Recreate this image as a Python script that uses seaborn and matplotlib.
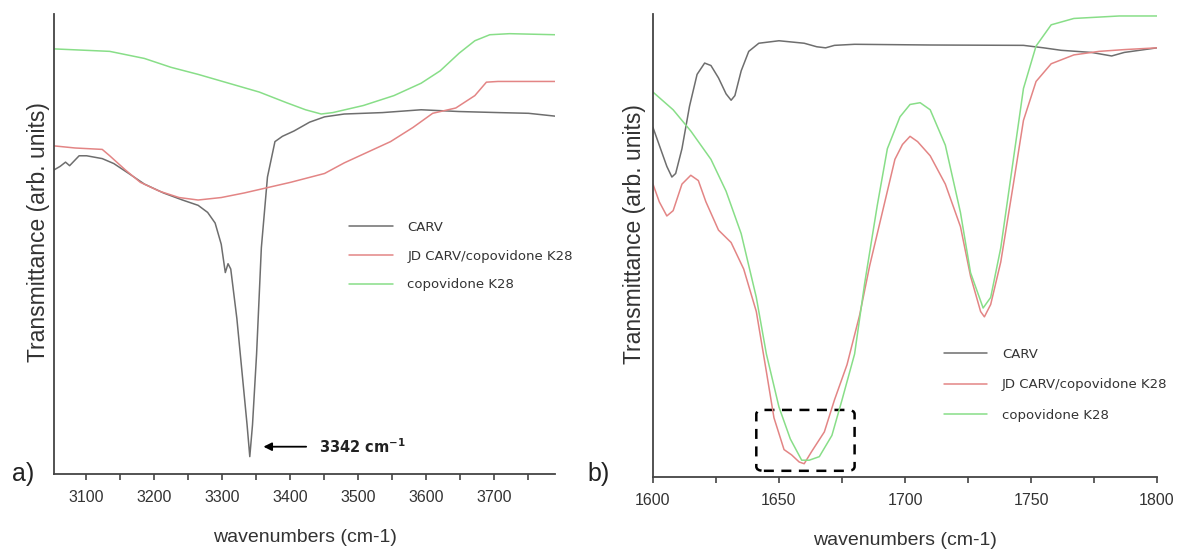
import numpy as np
import pandas as pd
import seaborn as sns
import matplotlib.pyplot as plt
from matplotlib.ticker import MultipleLocator
from matplotlib.patches import FancyBboxPatch

# ---------------- Data: panel a (3050-3790 cm-1) ----------------
a_carv_x = [3053, 3062, 3070, 3076, 3090, 3101, 3124, 3141, 3163, 3186, 3214, 3242, 3265, 3279, 3290,
            3299, 3305, 3309, 3313, 3322, 3330, 3337, 3341, 3345, 3351, 3358, 3367, 3378, 3389, 3406,
            3429, 3451, 3480, 3536, 3593, 3649, 3707, 3751, 3790]
a_carv_y = [860, 870, 882, 872, 900, 900, 892, 878, 850, 820, 795, 775, 760, 740, 710,
            650, 570, 595, 580, 440, 280, 140, 50, 140, 340, 640, 840, 940, 955, 970,
            995, 1010, 1018, 1022, 1030, 1025, 1022, 1020, 1012]

a_jd_x = [3053, 3084, 3124, 3135, 3158, 3180, 3208, 3237, 3265, 3299, 3333, 3367, 3401, 3451,
          3480, 3514, 3548, 3581, 3610, 3644, 3672, 3689, 3706, 3790]
a_jd_y = [928, 922, 918, 900, 860, 825, 800, 782, 775, 782, 795, 810, 825, 850,
          880, 910, 940, 980, 1020, 1035, 1070, 1108, 1110, 1110]

a_cop_x = [3053, 3135, 3186, 3225, 3265, 3310, 3355, 3395, 3423, 3446, 3463, 3508, 3553, 3593,
           3621, 3649, 3672, 3694, 3723, 3790]
a_cop_y = [1202, 1195, 1175, 1150, 1130, 1105, 1080, 1050, 1030, 1018, 1022, 1042, 1070, 1105,
           1140, 1190, 1225, 1242, 1245, 1242]

# ---------------- Data: panel b (1600-1800 cm-1) ----------------
b_carv_x = [1600, 1603, 1605.5, 1607.5, 1609, 1611.5, 1614.5, 1617.5, 1620.5, 1623, 1626, 1629, 1631,
            1632.5, 1635, 1638, 1642, 1650, 1660, 1665, 1668.5, 1672, 1680, 1710, 1747, 1755, 1762,
            1774, 1782, 1787, 1800]
b_carv_y = [988, 928, 878, 848, 858, 928, 1048, 1138, 1170, 1163, 1128, 1083, 1065,
            1078, 1148, 1203, 1226, 1233, 1226, 1216, 1213, 1220, 1223, 1221, 1220, 1213, 1206,
            1200, 1190, 1200, 1213]

b_jd_x = [1600, 1602.5, 1605.5, 1608, 1611.5, 1615, 1618, 1621, 1626, 1631, 1636, 1641, 1645, 1648,
          1652, 1655, 1658, 1660, 1663, 1668, 1672, 1677, 1682, 1686, 1692, 1696, 1699, 1702, 1705,
          1710, 1716, 1722, 1726, 1730, 1731.5, 1734, 1738, 1743, 1747, 1752, 1758, 1767, 1777,
          1787, 1800]
b_jd_y = [828, 778, 738, 753, 828, 853, 838, 778, 698, 663, 588, 468, 298, 168,
          78, 63, 43, 38, 73, 128, 218, 318, 458, 598, 778, 898, 940, 963, 948,
          908, 828, 708, 568, 468, 453, 488, 608, 828, 1008, 1118, 1168, 1193, 1203,
          1208, 1213]

b_cop_x = [1600, 1608, 1615, 1623, 1629, 1635, 1641, 1645, 1650, 1654.5, 1659, 1662, 1666, 1671,
           1675, 1680, 1684, 1689, 1693, 1698, 1702, 1706, 1710, 1716, 1722, 1726, 1731, 1734,
           1738, 1743, 1747, 1752, 1758, 1767, 1785, 1800]
b_cop_y = [1088, 1038, 978, 898, 808, 688, 508, 348, 198, 108, 48, 48, 58, 118,
           218, 348, 548, 768, 928, 1018, 1053, 1058, 1038, 938, 748, 578, 478, 508,
           648, 898, 1098, 1218, 1278, 1296, 1303, 1303]

series_names = ["CARV", "JD CARV/copovidone K28", "copovidone K28"]
colors = ["#6e6e6e", "#e38585", "#88de88"]

a_xticks = [3100, 3200, 3300, 3400, 3500, 3600, 3700]
b_xticks = [1600, 1650, 1700, 1750, 1800]

sns.set_theme(style="white")
plt.rcParams["font.family"] = ["Liberation Sans", "DejaVu Sans"]

fig = plt.figure(figsize=(11.81, 5.55), dpi=100)
axA = fig.add_axes([0.0457, 0.1454, 0.4243, 0.8290])
axB = fig.add_axes([0.5529, 0.1402, 0.4268, 0.8342])

def draw(ax, xs, ys):
    for x, y, name, c in zip(xs, ys, series_names, colors):
        df = pd.DataFrame({"x": x, "y": y})
        sns.lineplot(data=df, x="x", y="y", ax=ax, color=c, lw=1.1,
                     label=name, estimator=None, sort=False)

draw(axA, [a_carv_x, a_jd_x, a_cop_x], [a_carv_y, a_jd_y, a_cop_y])
draw(axB, [b_carv_x, b_jd_x, b_cop_x], [b_carv_y, b_jd_y, b_cop_y])

for ax in (axA, axB):
    for s in ("top", "right"):
        ax.spines[s].set_visible(False)
    for s in ("left", "bottom"):
        ax.spines[s].set_color("#444444")
        ax.spines[s].set_linewidth(1.3)
    ax.set_yticks([])
    ax.set_ylabel("Transmittance (arb. units)", fontsize=16.5, color="#333333")
    ax.set_xlabel("wavenumbers (cm-1)", fontsize=14, color="#333333", labelpad=17)
    ax.tick_params(axis="x", which="both", direction="out", length=4.5, width=1.2,
                   color="#444444", labelsize=11.5, labelcolor="#333333", bottom=True, pad=7)

legA = axA.legend(frameon=False, handlelength=3.3, handletextpad=1.1,
                  labelspacing=1.2, borderpad=0, borderaxespad=0, loc="upper left",
                  bbox_to_anchor=(0.589, 0.551), prop={"family": "DejaVu Sans", "size": 9.5})
legB = axB.legend(frameon=False, handlelength=3.3, handletextpad=1.1,
                  labelspacing=1.32, borderpad=0, borderaxespad=0, loc="upper left",
                  bbox_to_anchor=(0.577, 0.279), prop={"family": "DejaVu Sans", "size": 9.5})
for leg in (legA, legB):
    for t in leg.get_texts():
        t.set_color("#333333")

axA.set_xlim(3053, 3790)
axA.set_ylim(0, 1300)
axA.set_xticks(a_xticks)
axA.xaxis.set_minor_locator(MultipleLocator(50))
axA.yaxis.set_label_coords(-0.008, 0.527)

axB.set_xlim(1600, 1800)
axB.set_ylim(0, 1308)
axB.set_xticks(b_xticks)
axB.xaxis.set_minor_locator(MultipleLocator(25))
axB.yaxis.set_label_coords(-0.013, 0.525)

# Annotation arrow on panel a
axA.annotate("", xy=(3357, 78), xytext=(3428, 78),
             arrowprops=dict(arrowstyle="-|>", color="black", lw=1.3, mutation_scale=12))
axA.text(3443, 78, "3342 cm$^{\\mathbf{-1}}$", fontsize=10.5, fontweight="bold",
         family="DejaVu Sans", va="center", ha="left", color="#222222")

# Dashed rounded box on panel b
box = FancyBboxPatch((1641, 18), 39, 172, boxstyle="round,pad=0,rounding_size=3",
                     mutation_aspect=4, fill=False, ls=(0, (4, 3)), lw=1.8, ec="black")
axB.add_patch(box)

fig.text(12 / 1181, 1 - 474 / 555, "a)", fontsize=18, va="center", ha="left", color="#222222")
fig.text(587 / 1181, 1 - 474 / 555, "b)", fontsize=18, va="center", ha="left", color="#222222")

fig.savefig("out.png", dpi=100)
